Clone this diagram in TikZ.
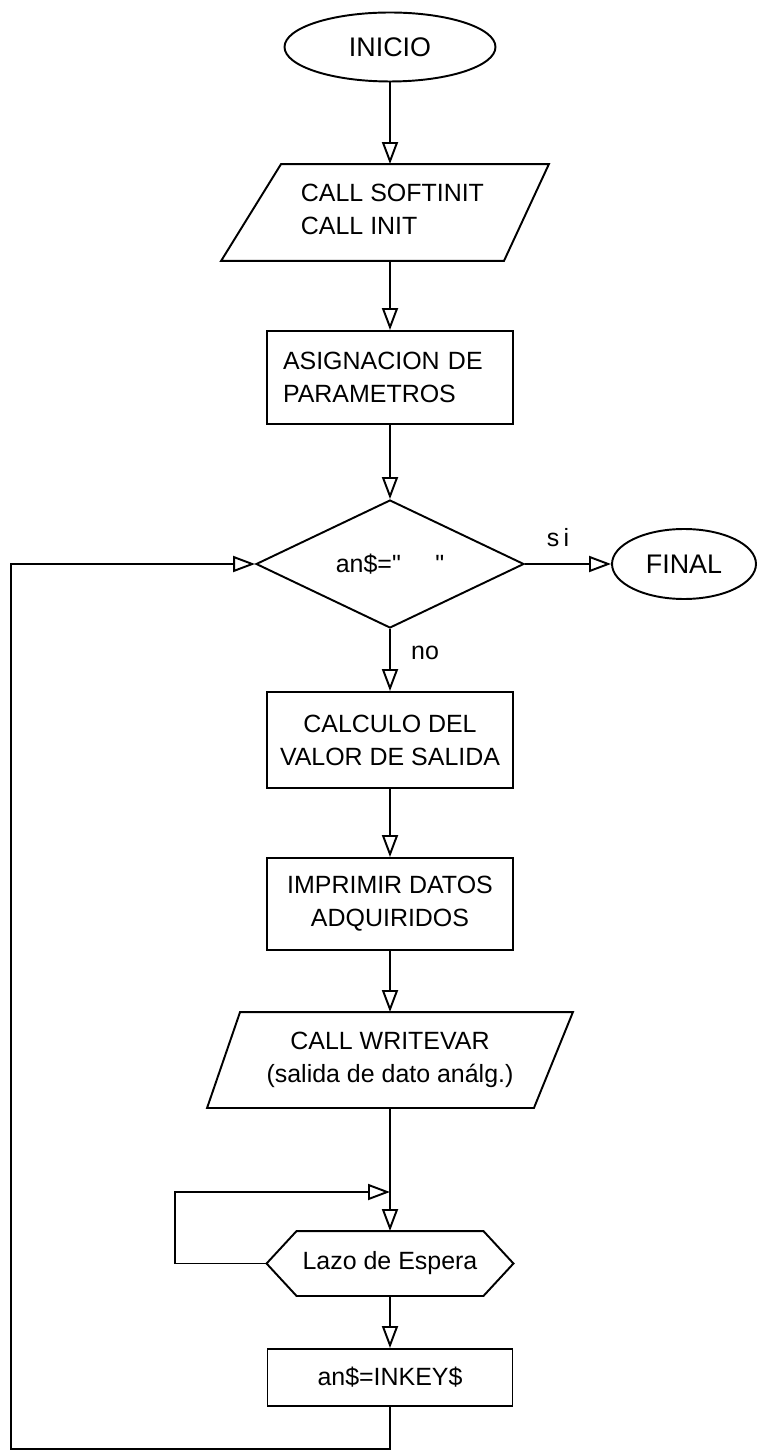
\documentclass[tikz,border=0pt]{standalone}
\usepackage{fontspec}
\setmainfont{Liberation Sans}
\newfontfamily\plainquotes{Liberation Sans}[Ligatures=TeXOff]
\usetikzlibrary{shapes.geometric,arrows.meta}
\begin{document}
\begin{tikzpicture}[x=0.02cm, y=-0.02cm,
  font=\fontsize{14.2}{18.8}\selectfont,
  line width=1.1pt,
  box/.style={draw, rectangle, inner sep=0pt, align=center},
  term/.style={draw, ellipse, inner sep=0pt, font=\fontsize{15.3}{19}\selectfont},
  ghost/.style={inner sep=0pt, align=center},
  decision/.style={draw, diamond, aspect=2, inner sep=0pt},
  arr/.style={-{Triangle[open,length=0.44cm,width=0.32cm]}},
  lbl/.style={inner sep=0pt}
]
\useasboundingbox (0,0) rectangle (758,1452);

% start
\node[term, minimum width=4.22cm, minimum height=1.38cm] (ini) at (390,47) {INICIO};

% input/output block: initialisation calls
\node[ghost, minimum width=6.52cm, minimum height=1.9cm] (p1) at (385,212.5) {};
\draw ([xshift=1.2cm]p1.north west) -- (p1.north east)
  -- ([xshift=-0.9cm]p1.south east) -- (p1.south west) -- cycle;
\node[lbl, anchor=west, align=left] (p1t) at (300,209) {CALL SOFTINIT\\CALL INIT};

% parameter assignment
\node[box, minimum width=4.92cm, minimum height=1.86cm, text width=4.28cm, align=left]
  (asig) at (390,377.5) {ASIGNACION DE\\PARAMETROS};

% key test
\node[decision, minimum width=5.36cm, minimum height=2.56cm] (dec) at (390,564)
  {\plainquotes an\$=" \hspace{0.55cm}"};
\node[term, minimum width=2.88cm, minimum height=1.4cm] (fin) at (684,564) {FINAL};
\node[lbl] (si) at (558,538) {s\,i};
\node[lbl] (no) at (425,653) {no};

% processing
\node[box, minimum width=4.92cm, minimum height=1.92cm] (calc) at (390,740)
  {CALCULO DEL\\VALOR DE SALIDA};
\node[box, minimum width=4.92cm, minimum height=1.84cm] (imp) at (390,904)
  {IMPRIMIR DATOS\\ADQUIRIDOS};

% analog output call
\node[ghost, minimum width=7.28cm, minimum height=1.88cm] (p2) at (390,1060)
  {CALL WRITEVAR\\(salida de dato análg.)};
\draw ([xshift=0.66cm]p2.north west) -- (p2.north east)
  -- ([xshift=-0.78cm]p2.south east) -- (p2.south west) -- cycle;

% wait loop
\coordinate (j) at (390,1192);
\node[ghost, minimum width=4.9cm, minimum height=1.26cm] (lazo) at (390,1263.5) {Lazo de Espera};
\draw (lazo.west) -- ([xshift=0.6cm]lazo.north west) -- ([xshift=-0.6cm]lazo.north east)
  -- (lazo.east) -- ([xshift=-0.6cm]lazo.south east) -- ([xshift=0.6cm]lazo.south west) -- cycle;

% key read
\node[box, minimum width=4.9cm, minimum height=1.14cm] (inkey) at (390,1377.5) {an\$=INKEY\$};

% connectors
\draw[arr] (ini.south) -- (ini.south |- p1.north);
\draw[arr] (p1.south -| asig.north) -- (asig.north);
\draw[arr] (asig) -- (dec);
\draw[arr] (dec.east) -- (fin.west);
\draw[arr] (dec) -- (calc);
\draw[arr] (calc) -- (imp);
\draw[arr] (imp) -- (p2);
\draw (p2.south) -- (j);
\draw[arr] (j) -- (lazo);
\draw[arr] (lazo.west) -- ++(-92,0) |- (j);
\draw[arr] (lazo) -- (inkey);
\coordinate (cnr) at (11,1449);
\draw[arr] (inkey.south) |- (cnr) |- (dec.west);
\end{tikzpicture}
\end{document}
